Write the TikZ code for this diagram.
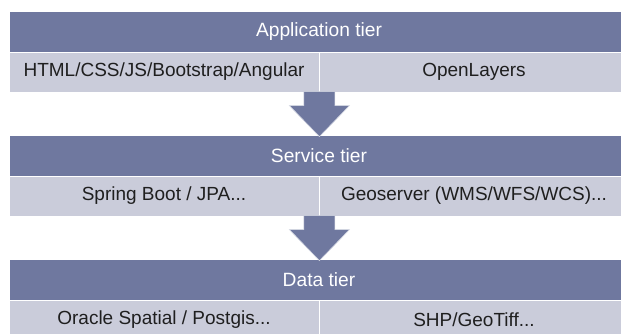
\documentclass[tikz,border=0pt]{standalone}
\usepackage{fontspec}
\setmainfont{Liberation Sans}
\usepackage{tikz}
\usetikzlibrary{calc}
\definecolor{tierblue}{HTML}{6F789F}
\definecolor{tiergray}{HTML}{CACCDA}

\begin{document}
\begin{tikzpicture}[x=1pt, y=-1pt,
  hdr/.style={fill=tierblue, draw=white, line width=0.8pt, minimum width=620pt,
    minimum height=41pt, inner sep=0pt, text=white, font=\fontsize{19.2}{22}\selectfont},
  cell/.style={fill=tiergray, draw=white, line width=0.8pt, minimum width=310pt,
    minimum height=40pt, inner sep=0pt, text=black!88, font=\fontsize{19}{22}\selectfont},
  blockarrow/.style={fill=tierblue, draw=white!70!tierblue, line width=0.6pt}]
\useasboundingbox (0,0) rectangle (621,333);

%tier: header + two cells
\def\Tier#1#2#3#4#5{
\node[hdr] (#1) at (319, #2+20.5) {#3};
\node[cell] (#1L) at (164, #2+61) {#4};
\node[cell] (#1R) at (474, #2+61) {#5};
}
\Tier{app}{11}{Application tier}{HTML/CSS/JS/Bootstrap/Angular}{OpenLayers}
\Tier{srv}{135}{Service tier}{Spring Boot / JPA...}{Geoserver (WMS/WFS/WCS)...}
\Tier{data}{259}{Data tier}{Oracle Spatial / Postgis...}{SHP/GeoTiff...}

%block arrow from one tier to the next
\def\Down#1#2{
\coordinate (#1tip) at ($(#1L.south east |- #2.north)+(0,2)$);
\draw[blockarrow] ($(#1tip)+(-15.5,-45)$) -- ($(#1tip)+(-15.5,-31)$)
  -- ($(#1tip)+(-30,-31)$) -- (#1tip) -- ($(#1tip)+(30,-31)$)
  -- ($(#1tip)+(15.5,-31)$) -- ($(#1tip)+(15.5,-45)$) -- cycle;
}
\Down{app}{srv}
\Down{srv}{data}
\end{tikzpicture}
\end{document}
